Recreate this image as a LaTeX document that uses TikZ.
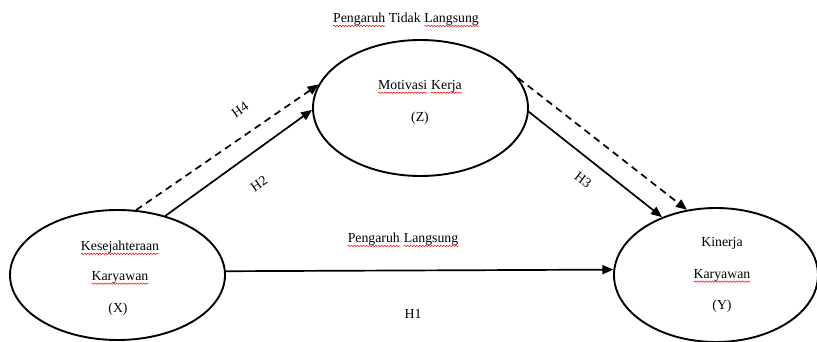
\documentclass[tikz,border=0pt]{standalone}
\usepackage{fontspec}
\setmainfont{Liberation Serif}
\usetikzlibrary{shapes.geometric,arrows.meta,decorations.pathmorphing}
\newcommand\wavy[1]{\tikz[baseline=(w.base)]{\node[inner sep=0pt,outer sep=0pt](w){#1};\draw[red,line width=0.5pt,decorate,decoration={snake,amplitude=0.7pt,segment length=3pt}] ([yshift=-3.2pt]w.base west)--([yshift=-3.2pt]w.base east);}}
\tikzset{
  var/.style={ellipse, draw, line width=1.9pt, inner sep=0pt},
  txt/.style={font=\fontsize{13.8}{16}\selectfont, inner sep=0pt},
  arr/.style={line width=1.7pt, -{Triangle[length=11pt,width=9pt]}},
  dasharr/.style={arr, dash pattern=on 7pt off 5pt},
}
\begin{document}
\begin{tikzpicture}[x=1pt,y=-1pt]
\useasboundingbox (0,0) rectangle (817,342);
% ellipses
\node[var, minimum width=215, minimum height=130] (X) at (117.5,275) {};
\node[var, minimum width=215, minimum height=136] (Z) at (420.5,108) {};
\node[var, minimum width=204, minimum height=134] (Y) at (716,275) {};
% texts in ellipses
\node[txt] (x1) at (120,248) {\wavy{Kesejahteraan}};
\node[txt] (x2) at (120,278) {\wavy{Karyawan}};
\node[txt] (x3) at (118,309) {(X)};
\node[txt] (z1) at (420,87) {\wavy{Motivasi} \wavy{Kerja}};
\node[txt] (z3) at (420,118) {(Z)};
\node[txt] (y1) at (722,243) {Kinerja};
\node[txt] (y2) at (722,276) {\wavy{Karyawan}};
\node[txt] (y3) at (722,306) {(Y)};
% headings
\node[txt] (tl) at (406,20) {\wavy{Pengaruh} Tidak \wavy{Langsung}};
\node[txt] (ll) at (403,240) {\wavy{Pengaruh} \wavy{Langsung}};
\node[txt] (h1) at (413,314) {H1};
\node[txt, rotate=35] (h4) at (240,110) {H4};
\node[txt, rotate=35] (h2) at (259,184) {H2};
\node[txt, rotate=-37] (h3) at (583,180) {H3};
% connectors
\draw[dasharr] (X.74.5) -- (Z.167.7);
\draw[arr] (X.51.6) -- (Z.181);
\draw[arr] (Z.-2.7) -- (Y.133);
\draw[dasharr] (Z.17) -- (Y.114.8);
\draw[arr] (X.2.7) -- (Y.177.7);
\end{tikzpicture}
\end{document}
